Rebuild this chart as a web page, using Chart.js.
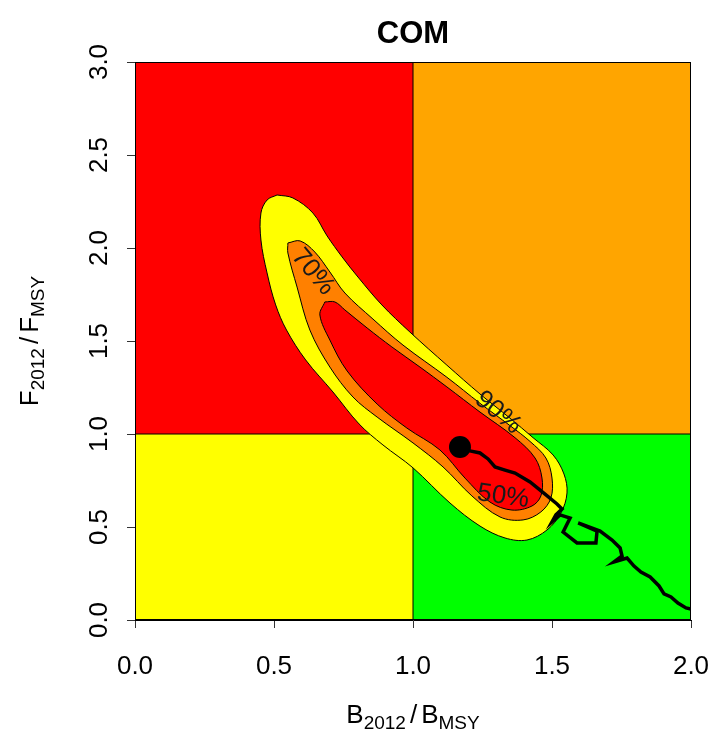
<!DOCTYPE html>
<html>
<head>
<meta charset="utf-8">
<title>COM</title>
<script src="https://cdn.jsdelivr.net/npm/chart.js@4.4.0/dist/chart.umd.min.js"></script>
<style>
  html, body { margin: 0; padding: 0; background: #fff; }
</style>
</head>
<body>
<canvas id="kobe" width="713" height="731"></canvas>
<script>
// --- data ---
const plotTitle = 'COM';
const xTicks = [0, 0.5, 1, 1.5, 2];
const yTicks = [0, 0.5, 1, 1.5, 2, 2.5, 3];

// contour outlines (B/Bmsy, F/Fmsy)
const xs90 = [0.511, 0.568, 0.640, 0.691, 0.745, 0.802, 0.888, 0.989, 1.122, 1.241, 1.349, 1.432, 1.504, 1.543, 1.554, 1.532, 1.482, 1.410, 1.331, 1.241, 1.133, 1.000, 0.892, 0.806, 0.712, 0.614, 0.545, 0.506, 0.475, 0.453, 0.453, 0.475, 0.511];
const ys90 = [2.285, 2.269, 2.188, 2.065, 1.952, 1.844, 1.694, 1.548, 1.370, 1.215, 1.085, 0.980, 0.887, 0.785, 0.683, 0.575, 0.484, 0.430, 0.441, 0.505, 0.629, 0.818, 0.941, 1.054, 1.226, 1.398, 1.559, 1.694, 1.866, 2.043, 2.188, 2.258, 2.285];
const xs70 = [0.550, 0.594, 0.647, 0.701, 0.755, 0.856, 0.964, 1.122, 1.241, 1.349, 1.421, 1.478, 1.500, 1.496, 1.460, 1.396, 1.313, 1.212, 1.108, 1.000, 0.871, 0.784, 0.701, 0.629, 0.583, 0.550, 0.550];
const ys70 = [2.027, 2.038, 1.978, 1.871, 1.758, 1.618, 1.478, 1.305, 1.165, 1.045, 0.960, 0.871, 0.763, 0.656, 0.581, 0.538, 0.554, 0.667, 0.823, 0.952, 1.091, 1.199, 1.360, 1.559, 1.790, 1.973, 2.027];
const xs50 = [0.683, 0.719, 0.755, 0.835, 0.924, 1.025, 1.122, 1.241, 1.367, 1.439, 1.464, 1.460, 1.428, 1.356, 1.277, 1.187, 1.097, 0.978, 0.871, 0.763, 0.701, 0.665, 0.683];
const ys50 = [1.710, 1.710, 1.667, 1.570, 1.468, 1.360, 1.253, 1.118, 0.980, 0.871, 0.763, 0.667, 0.613, 0.591, 0.634, 0.763, 0.914, 1.032, 1.161, 1.339, 1.505, 1.640, 1.710];

// stock trajectory, first point = 2012 (big dot)
const trajB = [1.169, 1.205, 1.241, 1.270, 1.295, 1.331, 1.367, 1.421, 1.475, 1.518, 1.536, 1.514, 1.500, 1.529, 1.565, 1.540, 1.590, 1.658, 1.662, 1.594, 1.673, 1.716, 1.745, 1.752, 1.723, 1.770, 1.795, 1.820, 1.853, 1.885, 1.903, 1.928, 1.953, 1.982, 2.000];
const trajF = [0.930, 0.909, 0.898, 0.866, 0.823, 0.806, 0.790, 0.742, 0.677, 0.624, 0.597, 0.565, 0.527, 0.565, 0.548, 0.473, 0.414, 0.414, 0.478, 0.522, 0.478, 0.430, 0.387, 0.344, 0.312, 0.333, 0.290, 0.258, 0.231, 0.183, 0.140, 0.124, 0.091, 0.065, 0.059];

const contourLabels = ['90%', '70%', '50%'];
const labelB = [1.306, 0.640, 1.324];
const labelF = [1.115, 1.871, 0.664];

// --- styling ---
const FONT = '"Liberation Sans", Arial, sans-serif';
const labelAngle = [40, 50, 8];

const pts = (xs, ys) => xs.map((v, i) => ({x: v, y: ys[i]}));

function quadrant(x0, x1, top, bottom, colour) {
  return {
    data: [{x: x0, y: top}, {x: x1, y: top}],
    fill: {value: bottom},
    backgroundColor: colour,
    borderWidth: 0,
    pointRadius: 0,
    order: 10
  };
}

function contour(xs, ys, colour, order) {
  return {
    data: pts(xs, ys),
    fill: 'shape',
    backgroundColor: colour,
    borderColor: '#000',
    borderWidth: 1,
    tension: 0.35,
    pointRadius: 0,
    order: order
  };
}

function drawMath(ctx, parts, cx, base) {
  const big = '26px ' + FONT;
  const small = '19px ' + FONT;
  let total = 0;
  const widths = parts.map(p => {
    ctx.font = p[1] === 1 ? small : big;
    const w = ctx.measureText(p[0]).width + (p[1] === 2 ? 8 : 0);
    total += w;
    return w;
  });
  let xx = cx - total / 2;
  ctx.textAlign = 'left';
  ctx.textBaseline = 'alphabetic';
  parts.forEach((p, i) => {
    ctx.font = p[1] === 1 ? small : big;
    ctx.fillText(p[0], xx + (p[1] === 2 ? 4 : 0), base + (p[1] === 1 ? 6 : 0));
    xx += widths[i];
  });
}

const kobeText = {
  id: 'kobeText',
  afterDatasetsDraw(chart) {
    const {ctx, chartArea: a, scales: {x, y}} = chart;
    ctx.save();
    ctx.strokeStyle = '#000';
    ctx.lineWidth = 1;
    ctx.strokeRect(a.left + 0.5, a.top + 0.5, a.right - a.left - 1, a.bottom - a.top - 1);

    ctx.fillStyle = '#1a1a1a';
    ctx.font = '26px ' + FONT;
    ctx.textAlign = 'center';
    ctx.textBaseline = 'middle';
    contourLabels.forEach((txt, i) => {
      ctx.save();
      ctx.translate(x.getPixelForValue(labelB[i]), y.getPixelForValue(labelF[i]));
      ctx.rotate(labelAngle[i] * Math.PI / 180);
      ctx.fillText(txt, 0, 0);
      ctx.restore();
    });

    ctx.fillStyle = '#000';
    ctx.font = 'bold 31px ' + FONT;
    ctx.fillText(plotTitle, (a.left + a.right) / 2, 34);

    drawMath(ctx, [['B', 0], ['2012', 1], ['/', 2], ['B', 0], ['MSY', 1]], (a.left + a.right) / 2, 723);

    ctx.translate(38, (a.top + a.bottom) / 2);
    ctx.rotate(-Math.PI / 2);
    drawMath(ctx, [['F', 0], ['2012', 1], ['/', 2], ['F', 0], ['MSY', 1]], 0, 0);
    ctx.restore();
  }
};

new Chart(document.getElementById('kobe'), {
  type: 'line',
  data: {
    datasets: [
      quadrant(0, 1, 3, 1, '#FF0000'),
      quadrant(1, 2, 3, 1, '#FFA500'),
      quadrant(0, 1, 1, 0, '#FFFF00'),
      quadrant(1, 2, 1, 0, '#00FF00'),
      {data: [{x: 1, y: 0}, {x: 1, y: 3}], borderColor: '#000', borderWidth: 1, pointRadius: 0, fill: false, order: 9},
      {data: [{x: 0, y: 1}, {x: 2, y: 1}], borderColor: '#000', borderWidth: 1, pointRadius: 0, fill: false, order: 9},
      contour(xs90, ys90, '#FFFF00', 8),
      contour(xs70, ys70, '#FF8000', 7),
      contour(xs50, ys50, '#FF0000', 6),
      {data: pts(trajB, trajF), borderColor: '#000', borderWidth: 3.5, pointRadius: 0, fill: false, tension: 0, order: 5},
      {data: [{x: trajB[0], y: trajF[0]}], showLine: false, pointRadius: 11, pointBackgroundColor: '#000', pointBorderWidth: 0, fill: false, order: 4}
    ]
  },
  options: {
    responsive: false,
    animation: false,
    events: [],
    layout: {padding: {top: 62, right: 22, left: 0, bottom: 0}},
    plugins: {legend: {display: false}, tooltip: {enabled: false}},
    scales: {
      x: {
        type: 'linear', min: 0, max: 2,
        afterFit: s => { s.height = 111; s.paddingLeft = 0; s.paddingRight = 0; },
        afterBuildTicks: s => { s.ticks = xTicks.map(v => ({value: v})); },
        ticks: {padding: 23, color: '#000', font: {size: 26, family: FONT}, callback: v => v.toFixed(1), autoSkip: false, maxRotation: 0},
        grid: {drawOnChartArea: false, tickLength: 8, color: '#333'},
        border: {color: '#000'}
      },
      y: {
        type: 'linear', min: 0, max: 3,
        afterFit: s => { s.width = 135; s.paddingTop = 0; s.paddingBottom = 0; },
        afterBuildTicks: s => { s.ticks = yTicks.map(v => ({value: v})); },
        ticks: {padding: 9, color: '#000', font: {size: 26, family: FONT}, callback: v => v.toFixed(1), autoSkip: false, minRotation: 90, maxRotation: 90, crossAlign: 'center'},
        grid: {drawOnChartArea: false, tickLength: 8, color: '#333'},
        border: {color: '#000'}
      }
    }
  },
  plugins: [kobeText]
});
</script>
</body>
</html>
